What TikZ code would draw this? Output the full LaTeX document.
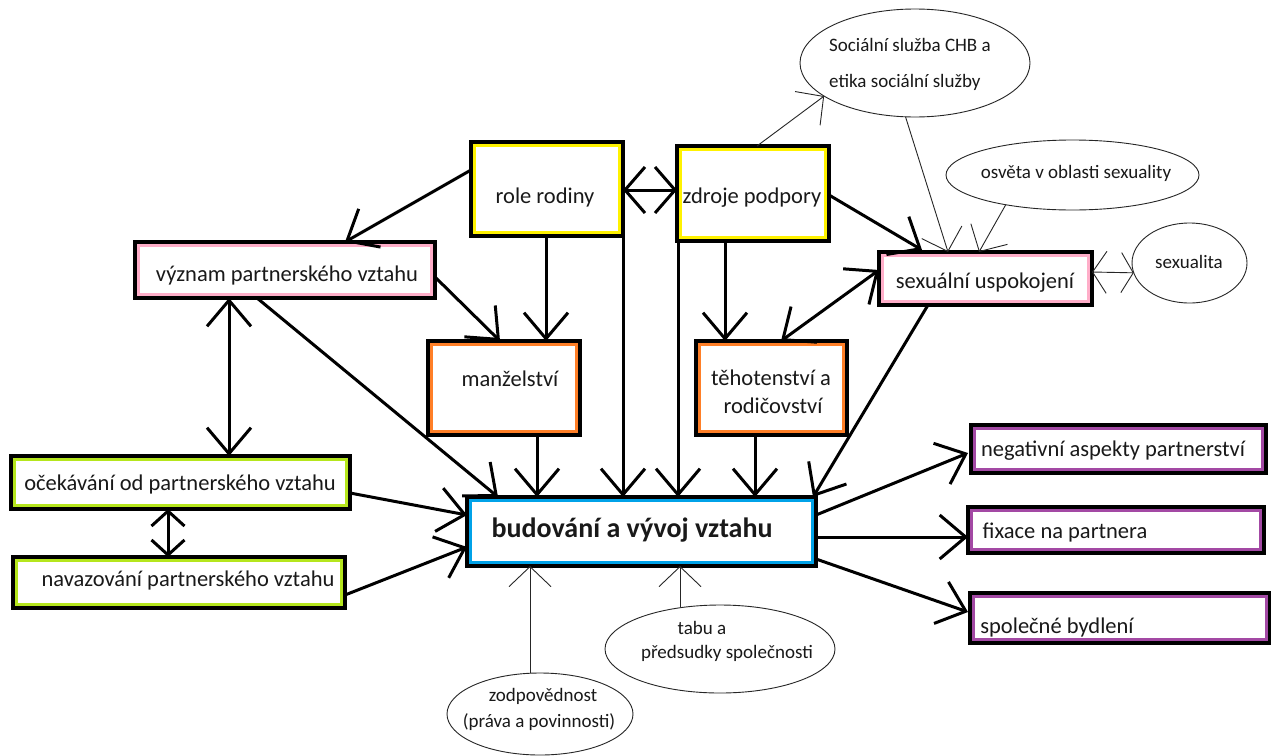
\documentclass[tikz,border=0pt]{standalone}
\usepackage{fontspec}
\setmainfont{Carlito}
\usetikzlibrary{arrows.meta,shapes.geometric}
\definecolor{cyel}{HTML}{FFF200}
\definecolor{cpink}{HTML}{FFAEC9}
\definecolor{corange}{HTML}{FF7F27}
\definecolor{cgreen}{HTML}{B5E61D}
\definecolor{cblue}{HTML}{00A2E8}
\definecolor{cpurple}{HTML}{A349A4}
\tikzset{
  box/.style={rectangle, draw=black, line width=4pt, fill=white, inner sep=0pt, outer sep=0pt,
    path picture={\draw[#1, line width=10pt] (path picture bounding box.south west) rectangle (path picture bounding box.north east);}},
  oval/.style={ellipse, draw=black!85, line width=0.9pt, inner sep=0pt, outer sep=0pt},
  txt/.style={inner sep=0pt, anchor=base, font=\fontsize{22.5}{27}\selectfont, text=black!90},
  stxt/.style={inner sep=0pt, anchor=base, font=\fontsize{19}{23}\selectfont, text=black!90},
  thick arr/.style={line width=3pt, -{Straight Barb[length=26pt,width=44pt]}},
  thick dbl/.style={line width=3pt, {Straight Barb[length=26pt,width=44pt]}-{Straight Barb[length=26pt,width=44pt]}},
  short dbl/.style={line width=3pt, {Straight Barb[length=20pt,width=46pt]}-{Straight Barb[length=20pt,width=46pt]}},
  tiny dbl/.style={line width=3pt, {Straight Barb[length=15pt,width=33pt]}-{Straight Barb[length=15pt,width=33pt]}},
  thin arr/.style={line width=0.9pt, draw=black!85, -{Straight Barb[length=20pt,width=42pt]}},
  thin dbl/.style={line width=0.9pt, draw=black!85, {Straight Barb[length=14pt,width=42pt]}-{Straight Barb[length=12pt,width=40pt]}},
}
\begin{document}
\begin{tikzpicture}[x=1pt,y=-1pt]
\fill[white] (0,0) rectangle (1271,755);
\useasboundingbox (0,0) rectangle (1271,755);

% boxes
\node[box=cyel, minimum width=152pt, minimum height=94pt] (role) at (547,189) {};
\node[box=cyel, minimum width=152pt, minimum height=95pt] (zdroje) at (753,193.5) {};
\node[box=corange, minimum width=152pt, minimum height=94pt] (manz) at (504,388) {};
\node[box=corange, minimum width=151pt, minimum height=94pt] (teh) at (771.5,388) {};
\node[box=cpink, minimum width=300pt, minimum height=56pt] (vyznam) at (285,270) {};
\node[box=cpink, minimum width=213pt, minimum height=53pt] (sex) at (985.5,278.5) {};
\node[box=cgreen, minimum width=339pt, minimum height=53pt] (ocek) at (180.5,482.5) {};
\node[box=cgreen, minimum width=332pt, minimum height=51pt] (nav) at (179,582.5) {};
\node[box=cblue, minimum width=349pt, minimum height=69pt] (bud) at (641.5,531.5) {};
\node[box=cpurple, minimum width=295pt, minimum height=48pt] (neg) at (1118.5,449) {};
\node[box=cpurple, minimum width=296pt, minimum height=46pt] (fix) at (1116,530) {};
\node[box=cpurple, minimum width=300pt, minimum height=50pt] (spol) at (1120,618) {};

% ellipses
\node[oval, minimum width=230pt, minimum height=108pt] (soc) at (915,63) {};
\node[oval, minimum width=253pt, minimum height=70pt] (osv) at (1072.5,175) {};
\node[oval, minimum width=115pt, minimum height=80pt] (sexl) at (1189.5,263) {};
\node[oval, minimum width=186pt, minimum height=82pt] (zod) at (540,714) {};
\node[oval, minimum width=230pt, minimum height=88pt] (tabu) at (720,649) {};

% texts (base line positions)
\node[txt] (t-role) at (545,203) {role rodiny};
\node[txt] (t-zdroje) at (752,203) {zdroje podpory};
\node[txt] (t-manz) at (510,386) {manželství};
\node[txt] (t-teh1) at (771,385) {těhotenství a};
\node[txt] (t-teh2) at (773,413) {rodičovství};
\node[txt] (t-vyznam) at (287,281) {význam partnerského vztahu};
\node[txt] (t-sex) at (985,288) {sexuální uspokojení};
\node[txt] (t-ocek) at (180,490) {očekávání od partnerského vztahu};
\node[txt] (t-nav) at (188,586) {navazování partnerského vztahu};
\node[txt, font=\fontsize{28}{32}\selectfont\bfseries] (t-bud) at (632,537) {budování a vývoj vztahu};
\node[txt] (t-neg) at (1113,456) {negativní aspekty partnerství};
\node[txt] (t-fix) at (1065,538) {fixace na partnera};
\node[txt] (t-spol) at (1057,633) {společné bydlení};

\node[stxt, anchor=base west] (t-soc1) at (829,51.5) {Sociální služba CHB a};
\node[stxt, anchor=base west] (t-soc2) at (829,87.5) {etika sociální služby};
\node[stxt] (t-osv) at (1076,178.5) {osvěta v oblasti sexuality};
\node[stxt] (t-sexl) at (1189,268.5) {sexualita};
\node[stxt] (t-zod1) at (543,701) {zodpovědnost};
\node[stxt] (t-zod2) at (539,727.5) {(práva a povinnosti)};
\node[stxt] (t-tabu1) at (702,634.5) {tabu a};
\node[stxt] (t-tabu2) at (727,658.5) {předsudky společnosti};

% thick connectors
\draw[thick arr] ([yshift=19pt]role.west) -- ([xshift=60pt]vyznam.north);
\draw[thick arr] ([xshift=-1pt]role.south) -- ([xshift=42pt]manz.north);
\draw[thick arr] ([yshift=-7pt]vyznam.east) -- ([xshift=-4pt]manz.north);
\draw[short dbl] ([yshift=-1pt]role.east) -- ([yshift=3.5pt]zdroje.west);
\draw[thick arr] ([xshift=-28pt]zdroje.south) -- ([xshift=-46.5pt]teh.north);
\draw[thick arr] ([yshift=-1.5pt]zdroje.east) -- ([xshift=-63.5pt,yshift=2pt]sex.north);
\draw[thick dbl] ([yshift=8.5pt]sex.west) -- ([xshift=9.5pt]teh.north);
\draw[thick arr] ([xshift=-57.5pt]sex.south) -- ([xshift=-3pt]bud.north east);
\draw[thick arr] ([xshift=-28pt]vyznam.south) -- ([xshift=31pt]bud.north west);
\draw[thick dbl] ([xshift=-56pt]vyznam.south) -- ([xshift=48.5pt]ocek.north);
\draw[tiny dbl] ([xshift=-12.5pt]ocek.south) -- ([xshift=-11pt]nav.north);
\draw[thick arr] ([yshift=-10.5pt]ocek.east) -- ([yshift=16.5pt]bud.west);
\draw[thick arr] ([yshift=-12.5pt]nav.east) -- ([yshift=-15.5pt]bud.west);
\draw[thick arr] ([xshift=33pt]manz.south) -- ([xshift=-104.5pt]bud.north);
\draw[thick arr] (role.south east) -- ([xshift=-18.5pt]bud.north);
\draw[thick arr] ([xshift=1pt]zdroje.south west) -- ([xshift=36.5pt]bud.north);
\draw[thick arr] ([xshift=-16.5pt]teh.south) -- ([xshift=113.5pt]bud.north);
\draw[thick arr] ([yshift=16.5pt]bud.east) -- ([xshift=-3pt,yshift=-4pt]neg.west);
\draw[thick arr] ([yshift=-5.5pt]bud.east) -- ([yshift=-7pt]fix.west);
\draw[thick arr] ([yshift=-27.5pt]bud.east) -- ([xshift=-2pt,yshift=6pt]spol.west);

% thin connectors
\draw[thin arr] ([xshift=4pt]zdroje.north) -- (soc.200);
\draw[thin arr] (soc.260) -- ([xshift=-37.5pt]sex.north);
\draw[thin arr] (osv.204) -- ([xshift=-6.5pt]sex.north);
\draw[thin dbl] ([yshift=6.5pt]sex.east) -- (sexl.190);
\draw[thin arr] ([xshift=-10pt]zod.north) -- ([xshift=-111.5pt]bud.south);
\draw[thin arr] ([xshift=-40pt,yshift=-2pt]tabu.north) -- ([xshift=38.5pt]bud.south);
\end{tikzpicture}
\end{document}
